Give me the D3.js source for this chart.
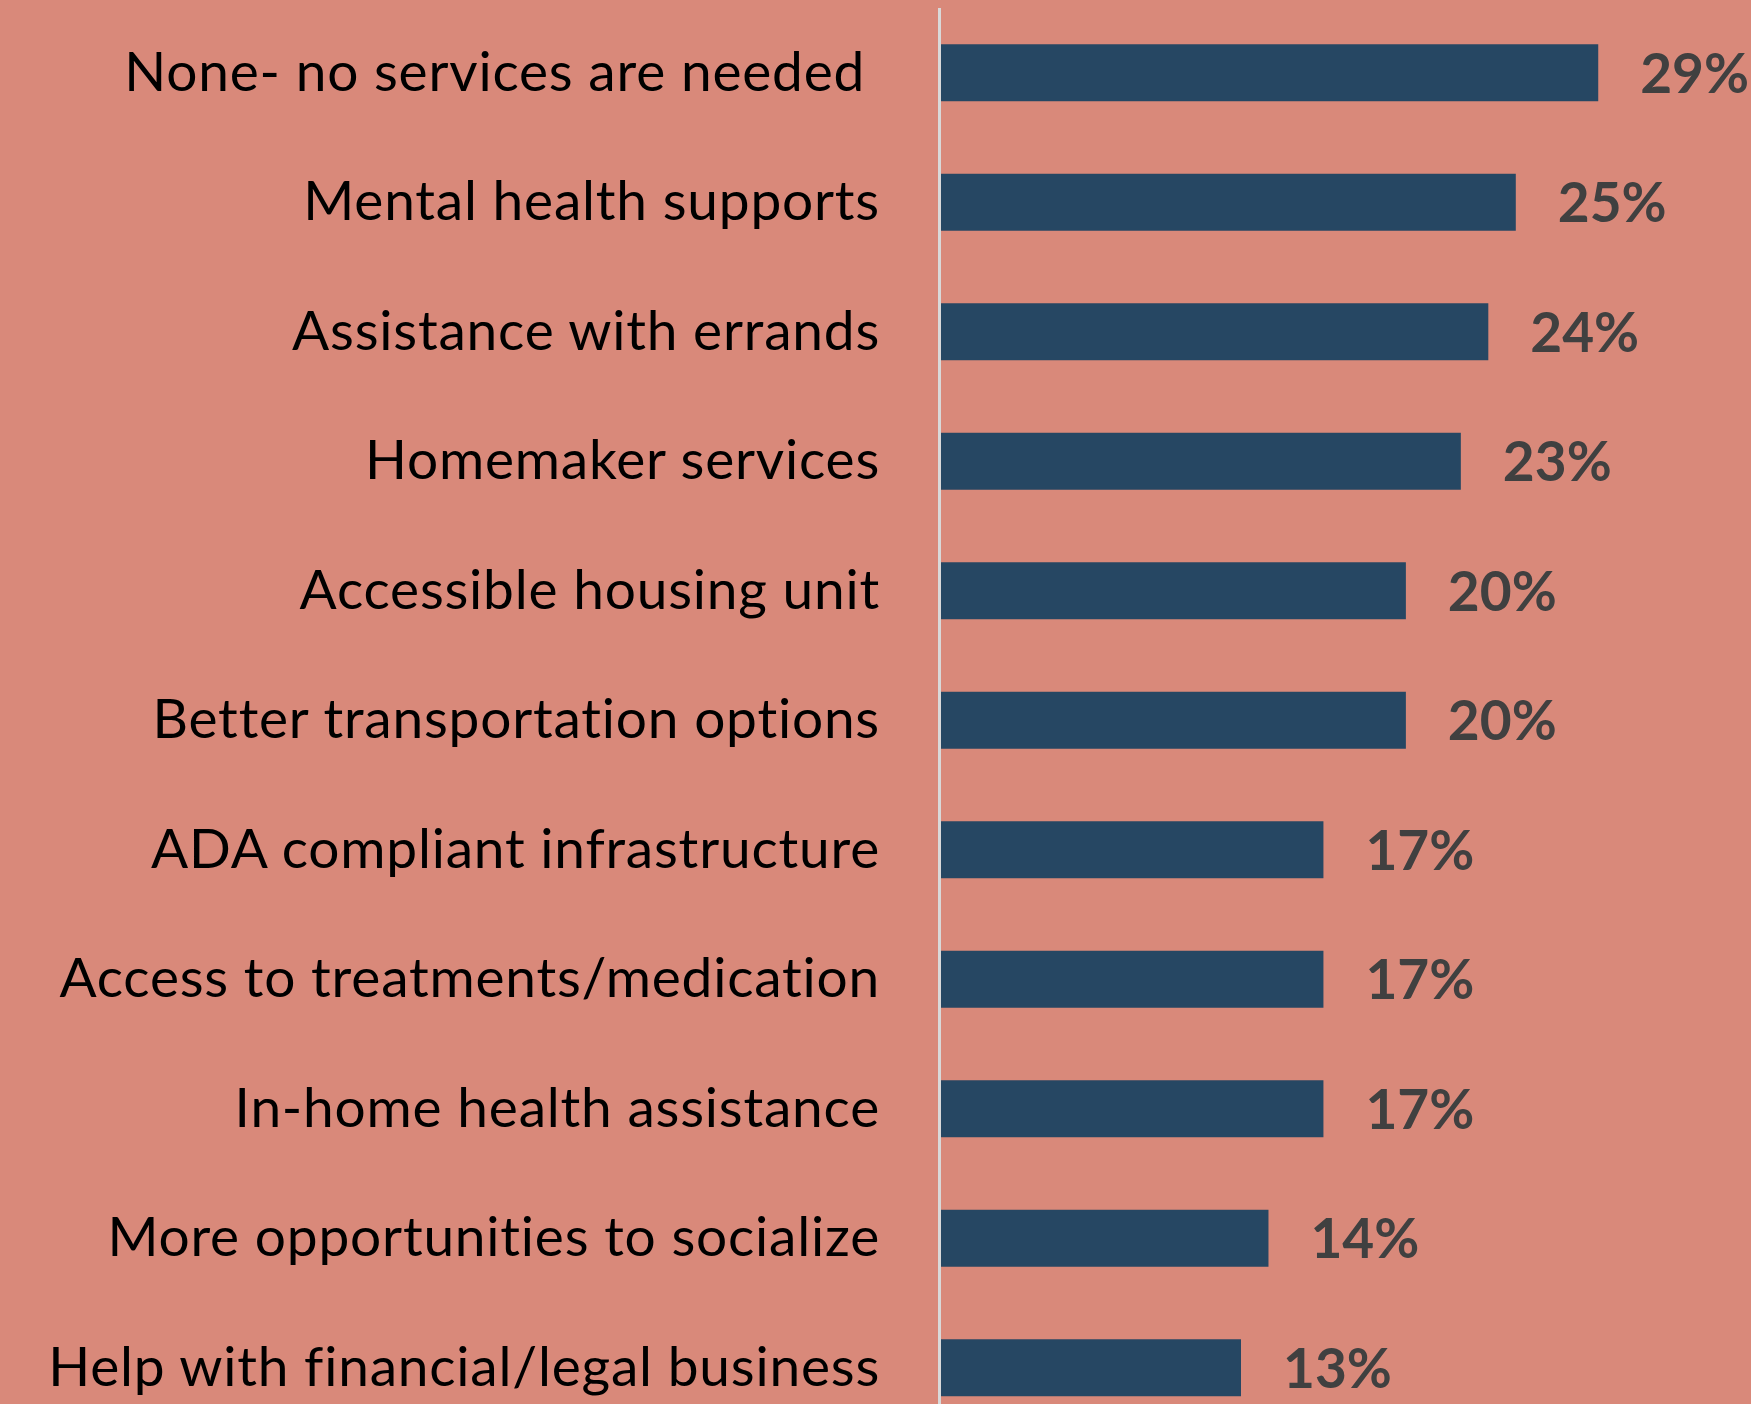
<!DOCTYPE html>
<html>
<head>
    <meta charset="utf-8">
    <title>Services needed</title>
    <script src="https://cdn.jsdelivr.net/npm/d3@7"></script>
    <style>
        html, body { margin: 0; padding: 0; background: #D9897A; }
        svg { display: block; }
        text { font-variant-ligatures: none; }
    </style>
</head>
<body>
<div id="chart_div"></div>
<script>
    // categories, top to bottom
    const categories = [
        "None- no services are needed ",
        "Mental health supports",
        "Assistance with errands",
        "Homemaker services",
        "Accessible housing unit",
        "Better transportation options",
        "ADA compliant infrastructure",
        "Access to treatments/medication",
        "In-home health assistance",
        "More opportunities to socialize",
        "Help with financial/legal business"
    ];
    // percent values (bars, labels shown rounded)
    const values = [28.7, 25.1, 23.9, 22.7, 20.3, 20.3, 16.7, 16.7, 16.7, 14.3, 13.1];
    const valueLabels = ["29%", "25%", "24%", "23%", "20%", "20%", "17%", "17%", "17%", "14%", "13%"];

    const width = 1751;
    const height = 1404;

    const svg = d3.select("#chart_div").append("svg")
        .attr("width", width)
        .attr("height", height);

    svg.append("rect")
        .attr("width", width)
        .attr("height", height)
        .attr("fill", "#D9897A");

    const data = categories.map((c, i) => ({ cat: c, value: values[i], label: valueLabels[i] }));

    let y = d3.scaleBand()
        .domain(categories)
        .range([8, 8 + 11 * 129.5])
        .paddingInner(0.56)
        .paddingOuter(0.28);

    let x = d3.scaleLinear()
        .domain([0, 30])
        .range([941, 941 + 30 * 22.9]);

    // bars
    svg.append("g")
        .selectAll("rect")
        .data(data)
        .enter().append("rect")
        .attr("x", x(0))
        .attr("y", d => y(d.cat))
        .attr("width", d => x(d.value) - x(0))
        .attr("height", y.bandwidth())
        .attr("fill", "#264763");

    // vertical axis line
    svg.append("line")
        .attr("x1", x(0) - 1.5)
        .attr("x2", x(0) - 1.5)
        .attr("y1", 8)
        .attr("y2", height)
        .attr("stroke", "#D9D9D9")
        .attr("stroke-width", 3);

    // category labels
    svg.append("g")
        .selectAll("text")
        .data(data)
        .enter().append("text")
        .attr("x", 880)
        .attr("y", d => y(d.cat) + y.bandwidth() / 2 + 18)
        .attr("text-anchor", "end")
        .style("white-space", "pre")
        .attr("font-family", "Lato, 'Open Sans', sans-serif")
        .attr("font-size", 55)
        .attr("letter-spacing", 0.8)
        .attr("fill", "#000")
        .text(d => d.cat);

    // value labels
    svg.append("g")
        .selectAll("text")
        .data(data)
        .enter().append("text")
        .attr("x", d => x(d.value) + 42)
        .attr("y", d => y(d.cat) + y.bandwidth() / 2 + 20)
        .attr("font-family", "Lato, 'Open Sans', sans-serif")
        .attr("font-weight", "bold")
        .attr("font-size", 55)
        .attr("fill", "#404040")
        .text(d => d.label);
</script>
</body>
</html>
